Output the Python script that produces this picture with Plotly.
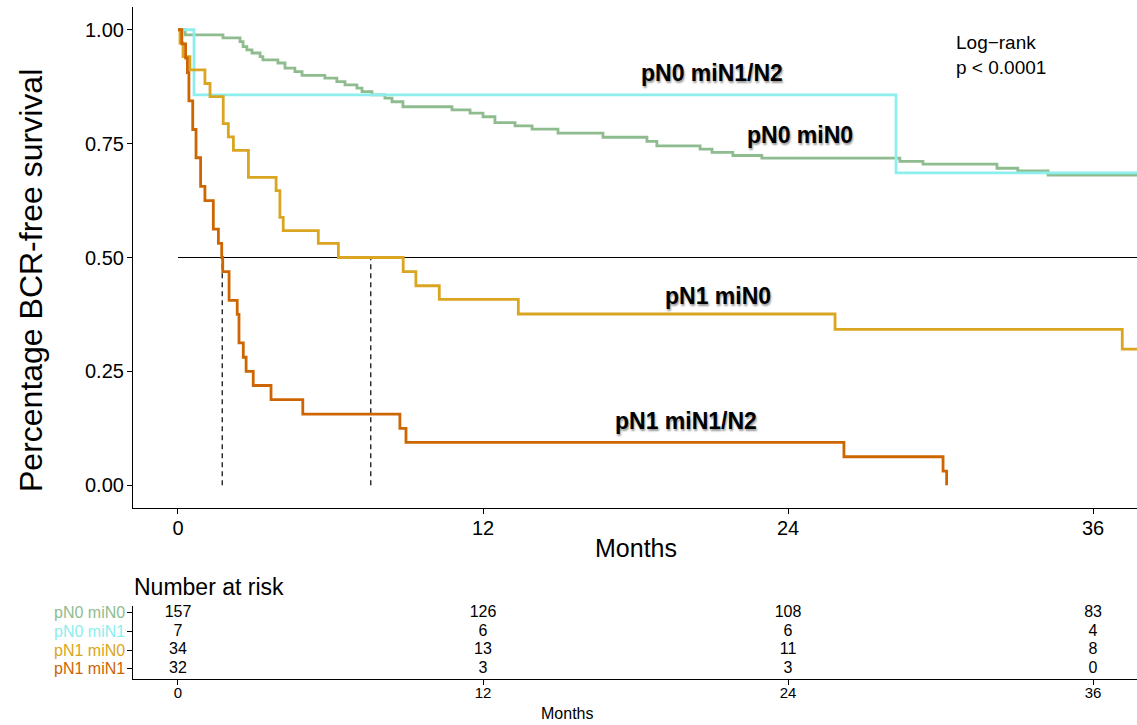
import plotly.graph_objects as go

# ---------------- data ----------------
groups = ["pN0 miN0", "pN0 miN1", "pN1 miN0", "pN1 miN1"]
curve_labels = ["pN0 miN0", "pN0 miN1/N2", "pN1 miN0", "pN1 miN1/N2"]
colors = ["#8FBC8F", "#8DEEEE", "#DAA520", "#CD6600"]

t_n0m0 = [0, 0.28, 1.77, 2.44, 2.56, 2.71, 2.91, 3.23, 3.34, 3.93, 4.21, 4.60, 4.88, 5.78, 6.25,
          6.57, 7.04, 7.24, 7.63, 8.14, 8.42, 8.85, 10.78, 11.49, 12.0, 12.47, 13.26, 13.93, 14.95,
          16.72, 18.45, 18.84, 20.54, 21.01, 21.83, 22.97, 28.40, 29.31, 32.22, 33.04, 34.23, 38.5]
s_n0m0 = [1.0, 0.989, 0.982, 0.974, 0.963, 0.956, 0.949, 0.941, 0.934, 0.927, 0.916, 0.908, 0.900,
          0.894, 0.886, 0.879, 0.872, 0.864, 0.857, 0.850, 0.842, 0.831, 0.824, 0.817, 0.809, 0.796,
          0.789, 0.782, 0.773, 0.764, 0.755, 0.745, 0.738, 0.731, 0.724, 0.718, 0.711, 0.705, 0.696,
          0.690, 0.681, 0.681]

t_n0m1 = [0, 0.63, 28.25, 38.5]
s_n0m1 = [1.0, 0.857, 0.686, 0.686]

t_n1m0 = [0, 0.08, 0.20, 0.47, 1.06, 1.26, 1.78, 1.98, 2.18, 2.77, 3.86, 4.01, 4.14, 5.52, 6.31,
          8.86, 9.36, 10.28, 13.39, 25.85, 37.15, 38.5]
s_n1m0 = [1.0, 0.971, 0.941, 0.912, 0.882, 0.853, 0.794, 0.765, 0.735, 0.676, 0.647, 0.588, 0.559,
          0.531, 0.500, 0.469, 0.438, 0.408, 0.376, 0.342, 0.299, 0.299]

t_n1m1 = [0, 0.15, 0.30, 0.37, 0.43, 0.58, 0.71, 0.89, 1.06, 1.39, 1.59, 1.72, 1.76, 2.01, 2.33,
          2.40, 2.57, 2.68, 2.96, 3.66, 4.91, 8.73, 8.97, 26.2, 30.1, 30.24]
s_n1m1 = [1.0, 0.969, 0.938, 0.906, 0.844, 0.781, 0.719, 0.656, 0.625, 0.5625, 0.531, 0.500, 0.469,
          0.406, 0.375, 0.3125, 0.281, 0.25, 0.219, 0.188, 0.156, 0.125, 0.094, 0.0625, 0.031, 0.0]

times = [t_n0m0, t_n0m1, t_n1m0, t_n1m1]
survs = [s_n0m0, s_n0m1, s_n1m0, s_n1m1]

risk_times = [0, 12, 24, 36]
risk_n0m0 = [157, 126, 108, 83]
risk_n0m1 = [7, 6, 6, 4]
risk_n1m0 = [34, 13, 11, 8]
risk_n1m1 = [32, 3, 3, 0]
risk = [risk_n0m0, risk_n0m1, risk_n1m0, risk_n1m1]

x_ticks = [0, 12, 24, 36]
y_ticks = [0, 0.25, 0.5, 0.75, 1.0]

# label positions (data coords)
label_x = [24.47, 21.0, 21.24, 19.98]
label_y = [0.769, 0.905, 0.415, 0.141]

# ---------------- layout helpers ----------------
W, H = 1137, 725
def px(x):
    return x / W
def py(y):
    return 1 - y / H

XR = [-1.77, 37.73]
FONT = "Liberation Sans, Arial, sans-serif"

def median_time(t, s):
    for i, v in enumerate(s):
        if v < 0.5:
            return t[i]
        if abs(v - 0.5) < 1e-9:
            j = i + 1
            return (t[i] + t[j]) / 2 if j < len(t) else t[i]
    return None

fig = go.Figure()

# median lines
meds = [m for m in (median_time(t, s) for t, s in zip(times, survs)) if m is not None]
fig.add_trace(go.Scatter(x=[0, 40], y=[0.5, 0.5], mode="lines",
                         line=dict(color="black", width=1.1), hoverinfo="skip", showlegend=False))
for m in meds:
    fig.add_trace(go.Scatter(x=[m, m], y=[0, 0.5], mode="lines",
                             line=dict(color="black", width=1.2, dash="5px,4px"),
                             hoverinfo="skip", showlegend=False))

# curves
for t, s, c, g in zip(times, survs, colors, groups):
    fig.add_trace(go.Scatter(x=t, y=s, mode="lines", line=dict(color=c, width=2.8, shape="hv"),
                             name=g, showlegend=False))

# curve labels
for lx, ly, lab in zip(label_x, label_y, curve_labels):
    fig.add_annotation(x=lx, y=ly, xref="x", yref="y", text="<b>%s</b>" % lab, showarrow=False,
                       font=dict(family=FONT, size=23, color="black", shadow="1px 2px 2px #999"))

# log-rank
fig.add_annotation(x=px(954), y=py(55), xref="paper", yref="paper", xanchor="left", yanchor="middle",
                   align="left", text="Log\u2212rank<br>p < 0.0001", showarrow=False,
                   font=dict(family=FONT, size=19, color="black"))

# risk table numbers
rows = [4, 3, 2, 1]
for r, vals in zip(rows, risk):
    fig.add_trace(go.Scatter(x=risk_times, y=[r] * len(vals), mode="text",
                             text=[str(v) for v in vals], textposition="middle center",
                             textfont=dict(family=FONT, size=16, color="black"),
                             xaxis="x2", yaxis="y2", hoverinfo="skip", showlegend=False,
                             cliponaxis=False))
for r, g, c in zip(rows, groups, colors):
    fig.add_annotation(x=px(127), y=r, xref="paper", yref="y2", xanchor="right", yanchor="middle",
                       text=g, showarrow=False, font=dict(family=FONT, size=16, color=c))

fig.add_annotation(x=px(132), y=py(587), xref="paper", yref="paper", xanchor="left", yanchor="middle",
                   text="Number at risk", showarrow=False, font=dict(family=FONT, size=23, color="black"))
fig.add_annotation(x=px(636), y=py(548), xref="paper", yref="paper", xanchor="center", yanchor="middle",
                   text="Months", showarrow=False, font=dict(family=FONT, size=25, color="black"))
fig.add_annotation(x=px(567), y=py(713), xref="paper", yref="paper", xanchor="center", yanchor="middle",
                   text="Months", showarrow=False, font=dict(family=FONT, size=16, color="black"))
fig.add_annotation(x=px(31), y=py(281), xref="paper", yref="paper", xanchor="center", yanchor="middle",
                   text="Percentage BCR-free survival", textangle=-90, showarrow=False,
                   font=dict(family=FONT, size=32, color="black"))

axis_common = dict(showline=True, linecolor="black", linewidth=1.2, ticks="outside", ticklen=5,
                   tickcolor="black", tickwidth=1.1, showgrid=False, zeroline=False, mirror=False)

fig.update_layout(
    width=W, height=H, margin=dict(l=0, r=0, t=0, b=0),
    paper_bgcolor="white", plot_bgcolor="white",
    xaxis=dict(domain=[px(133), 1], range=XR, tickvals=x_ticks, ticktext=[str(v) for v in x_ticks],
               tickfont=dict(family=FONT, size=20, color="black"), anchor="y",
               ticklabelstandoff=-3, **axis_common),
    yaxis=dict(domain=[py(508), py(7)], range=[-0.05, 1.05], tickvals=y_ticks,
               ticktext=["%.2f" % v for v in y_ticks],
               tickfont=dict(family=FONT, size=20, color="black"), anchor="x",
               ticklabelstandoff=-1, **axis_common),
    xaxis2=dict(domain=[px(133), 1], range=XR, tickvals=x_ticks, ticktext=[str(v) for v in x_ticks],
                tickfont=dict(family=FONT, size=15, color="black"),
                anchor="y2", ticklabelstandoff=-5, **axis_common),
    yaxis2=dict(domain=[py(679), py(606)], range=[0.464, 4.37], tickvals=rows,
                ticktext=["", "", "", ""], anchor="x2", **axis_common),
    font=dict(family=FONT),
)

fig.write_html("out.html")
